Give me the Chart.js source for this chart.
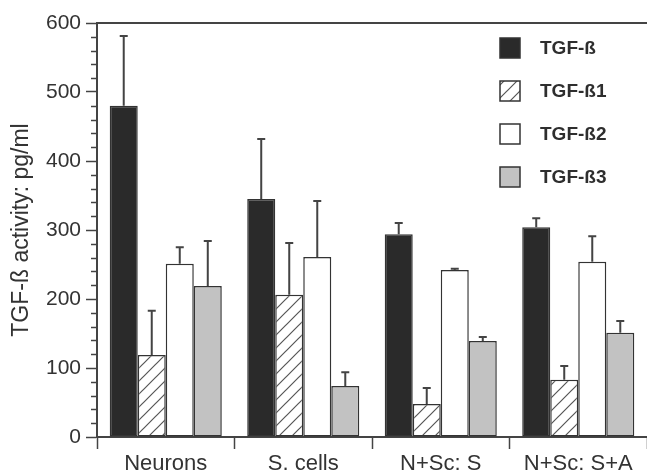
<!DOCTYPE html>
<html>
<head>
<meta charset="utf-8">
<script src="https://cdn.jsdelivr.net/npm/chart.js@4.4.1/dist/chart.umd.min.js"></script>
<style>
  html, body { margin: 0; padding: 0; background: #ffffff; }
  #wrap { width: 647px; height: 475px; position: relative; }
</style>
</head>
<body>
<div id="wrap"><canvas id="c" width="647" height="475"></canvas></div>
<script>
// ---- data ----
const categories = ["Neurons", "S. cells", "N+Sc: S", "N+Sc: S+A"];
const seriesNames = ["TGF-ß", "TGF-ß1", "TGF-ß2", "TGF-ß3"];
const tgfB      = [480, 345, 294, 304];
const tgfB1     = [119, 206, 48, 83];
const tgfB2     = [251, 261, 242, 254];
const tgfB3     = [219, 74, 139, 151];
const tgfBErr   = [581, 432, 310, 317];
const tgfB1Err  = [183, 281, 71, 103];
const tgfB2Err  = [275, 342, 244, 291];
const tgfB3Err  = [284, 94, 145, 168];
const yTicks    = [0, 100, 200, 300, 400, 500, 600];
const yTitle    = "TGF-ß activity: pg/ml";

// hatch pattern
function hatch() {
  const s = 13;
  const c = document.createElement('canvas');
  c.width = s; c.height = s;
  const g = c.getContext('2d');
  g.fillStyle = '#ffffff';
  g.fillRect(0, 0, s, s);
  g.strokeStyle = '#555555';
  g.lineWidth = 1.2;
  g.beginPath();
  g.moveTo(-1, s + 1); g.lineTo(s + 1, -1);
  g.moveTo(-1, 1); g.lineTo(1, -1);
  g.moveTo(s - 1, s + 1); g.lineTo(s + 1, s - 1);
  g.stroke();
  return g.createPattern(c, 'repeat');
}
const hatchPattern = hatch();

const fills = ['#2a2a2a', hatchPattern, '#ffffff', '#c2c2c2'];
const values = [tgfB, tgfB1, tgfB2, tgfB3];
const errs = [tgfBErr, tgfB1Err, tgfB2Err, tgfB3Err];

const datasets = seriesNames.map((n, i) => ({
  label: n,
  data: values[i],
  errTop: errs[i],
  backgroundColor: fills[i],
  borderColor: '#333333',
  borderWidth: 1.5,
  borderSkipped: false,
  barPercentage: 1.0,
  categoryPercentage: 0.815
}));

const ink = '#333333';
const FONT = '"Liberation Sans", Arial, sans-serif';

const errorBars = {
  id: 'errorBars',
  afterDatasetsDraw(chart) {
    const ctx = chart.ctx;
    const y = chart.scales.y;
    ctx.save();
    ctx.strokeStyle = '#444444';
    ctx.lineWidth = 2;
    chart.data.datasets.forEach((ds, di) => {
      const meta = chart.getDatasetMeta(di);
      meta.data.forEach((bar, i) => {
        const top = y.getPixelForValue(ds.errTop[i]);
        const base = y.getPixelForValue(ds.data[i]);
        ctx.beginPath();
        ctx.moveTo(bar.x, base);
        ctx.lineTo(bar.x, top);
        ctx.moveTo(bar.x - 4, top);
        ctx.lineTo(bar.x + 4, top);
        ctx.stroke();
      });
    });
    ctx.restore();
  }
};

const frame = {
  id: 'frame',
  afterDraw(chart) {
    const ctx = chart.ctx;
    const a = chart.chartArea;
    const y = chart.scales.y;
    ctx.save();
    ctx.strokeStyle = '#444444';
    // top frame line
    ctx.lineWidth = 2;
    ctx.beginPath();
    ctx.moveTo(a.left, a.top);
    ctx.lineTo(chart.width, a.top);
    ctx.stroke();
    // minor ticks
    ctx.lineWidth = 1.5;
    for (let v = 20; v < 600; v += 20) {
      if (v % 100 === 0) continue;
      const py = Math.round(y.getPixelForValue(v)) + 0.5;
      ctx.beginPath();
      ctx.moveTo(a.left - 6, py);
      ctx.lineTo(a.left, py);
      ctx.stroke();
    }
    // legend
    ctx.font = 'bold 19px ' + FONT;
    ctx.textBaseline = 'middle';
    ctx.textAlign = 'left';
    chart.data.datasets.forEach((ds, i) => {
      const sx = 500, sy = 38 + i * 43;
      ctx.fillStyle = ds.backgroundColor;
      ctx.fillRect(sx, sy, 20, 20);
      ctx.lineWidth = 1.5;
      ctx.strokeStyle = '#333333';
      ctx.strokeRect(sx, sy, 20, 20);
      ctx.fillStyle = '#2e2e2e';
      ctx.fillText(ds.label, sx + 40, sy + 11);
    });
    ctx.restore();
  }
};

new Chart(document.getElementById('c'), {
  type: 'bar',
  data: { labels: categories, datasets },
  options: {
    responsive: false,
    animation: false,
    devicePixelRatio: 1,
    layout: { padding: { top: 23, right: -2, left: 0, bottom: 0 } },
    plugins: {
      legend: { display: false },
      tooltip: { enabled: false }
    },
    scales: {
      x: {
        grid: {
          display: true,
          drawOnChartArea: false,
          offset: true,
          tickLength: 12,
          tickColor: '#444444',
          tickWidth: 1.5
        },
        border: { display: true, color: '#444444', width: 2 },
        ticks: {
          color: ink,
          padding: 2,
          font: { family: FONT, size: 22 }
        },
        afterFit(s) { s.height = 38; }
      },
      y: {
        min: 0,
        max: 600,
        afterBuildTicks(s) { s.ticks = yTicks.map(v => ({ value: v })); },
        grid: {
          drawOnChartArea: false,
          tickLength: 11,
          tickColor: '#444444',
          tickWidth: 1.5
        },
        border: { display: true, color: '#444444', width: 2 },
        ticks: {
          color: ink,
          padding: 5,
          font: { family: FONT, size: 21 }
        },
        title: {
          display: true,
          text: yTitle,
          color: ink,
          padding: { top: 8, bottom: 0 },
          font: { family: FONT, size: 23 }
        },
        afterFit(s) { s.width = 97; }
      }
    }
  },
  plugins: [errorBars, frame]
});
</script>
</body>
</html>
